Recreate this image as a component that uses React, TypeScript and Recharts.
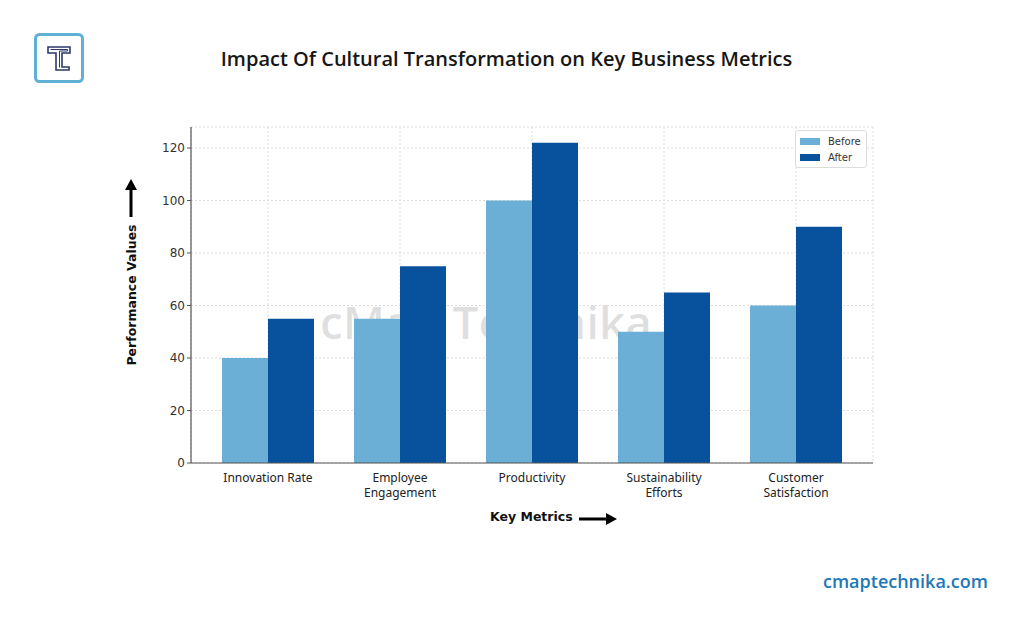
import { BarChart, Bar, XAxis, YAxis, CartesianGrid } from "recharts";

const metrics = [
  "Innovation Rate",
  "Employee\nEngagement",
  "Productivity",
  "Sustainability\nEfforts",
  "Customer\nSatisfaction",
];
const before = [40, 55, 100, 50, 60];
const after = [55, 75, 122, 65, 90];
const yTicks = [0, 20, 40, 60, 80, 100, 120];
const seriesNames = ["Before", "After"];

const data = metrics.map((m, i) => ({ metric: m, Before: before[i], After: after[i] }));

const BEFORE = "#6baed6";
const AFTER = "#08519c";
const colors = [BEFORE, AFTER];

function MetricTick({ x, y, payload }: any) {
  const lines = String(payload.value).split("\n");
  return (
    <text x={x} y={y + 11} textAnchor="middle" fontSize={12} fill="#222" fontFamily="'Noto Sans', sans-serif">
      {lines.map((l, i) => (
        <tspan key={i} x={x} dy={i === 0 ? 0 : 15}>
          {l}
        </tspan>
      ))}
    </text>
  );
}

function LegendBox() {
  return (
    <div
      style={{
        position: "absolute",
        left: 795,
        top: 130,
        border: "1px solid #ddd",
        borderRadius: 3,
        background: "rgba(255,255,255,0.9)",
        padding: "2px 5px 2px 4px",
        fontFamily: "'DejaVu Sans', sans-serif",
        fontSize: 10,
        color: "#333",
      }}
    >
      {seriesNames.map((name, i) => (
        <div key={name} style={{ display: "flex", alignItems: "center", height: 16 }}>
          <span style={{ width: 20, height: 7, background: colors[i], marginRight: 8 }} />
          {name}
        </div>
      ))}
    </div>
  );
}

export default function App() {
  return (
    <div style={{ position: "relative", width: 1024, height: 622, margin: -8, background: "#fff", overflow: "hidden" }}>
      {/* logo */}
      <svg style={{ position: "absolute", left: 34, top: 33 }} width={50} height={50}>
        <rect x={1.5} y={1.5} width={47} height={47} rx={4} fill="#fff" stroke="#5fb0d5" strokeWidth={3} />
        <path d="M14 14 H36 V20 H28 V34 H35 V37 H22 V20 H14 Z" fill="none" stroke="#2b3a6b" strokeWidth={1.6} />
        <path d="M16.5 16.5 H33.5 V18 H25.5 V34.5" fill="none" stroke="#2b3a6b" strokeWidth={1} />
      </svg>
      <div
        style={{
          position: "absolute",
          top: 45,
          left: 0,
          width: 1013,
          textAlign: "center",
          fontFamily: "'Open Sans', sans-serif",
          fontWeight: 600,
          fontSize: 20,
          color: "#161616",
        }}
      >
        Impact Of Cultural Transformation on Key Business Metrics
      </div>
      {/* watermark */}
      <div
        style={{
          position: "absolute",
          top: 290,
          left: 0,
          width: 972,
          textAlign: "center",
          fontFamily: "'Open Sans', sans-serif",
          fontWeight: 600,
          fontSize: 46,
          color: "rgba(0,0,0,0.13)",
        }}
      >
        cMap Technika
      </div>
      <div style={{ position: "absolute", left: 0, top: 0 }}>
        <BarChart
          width={1024}
          height={622}
          data={data}
          margin={{ top: 127, right: 151, bottom: 119, left: 151 }}
          barCategoryGap={20}
          barGap={0}
        >
          <CartesianGrid stroke="#dcdcdc" strokeDasharray="2 2" />
          <XAxis
            dataKey="metric"
            height={40}
            padding={{ left: 11, right: 11 }}
            tick={<MetricTick />}
            tickLine={false}
            axisLine={{ stroke: "#555", strokeWidth: 1.2 }}
            interval={0}
          />
          <YAxis
            width={40}
            domain={[0, 128]}
            ticks={yTicks}
            tick={{ fontSize: 12, fill: "#333", fontFamily: "'DejaVu Sans', sans-serif" }}
            tickSize={4}
            tickLine={{ stroke: "#555" }}
            axisLine={{ stroke: "#555", strokeWidth: 1.2 }}
          />
          <Bar dataKey="Before" name={seriesNames[0]} fill={BEFORE} isAnimationActive={false} />
          <Bar dataKey="After" name={seriesNames[1]} fill={AFTER} isAnimationActive={false} />
        </BarChart>
      </div>
      <LegendBox />
      {/* y label */}
      <div
        style={{
          position: "absolute",
          left: 131,
          top: 295,
          transform: "translate(-50%, -50%) rotate(-90deg)",
          whiteSpace: "nowrap",
          fontFamily: "'DejaVu Sans', sans-serif",
          fontWeight: 700,
          fontSize: 12.5,
          color: "#111",
        }}
      >
        Performance Values
      </div>
      <svg style={{ position: "absolute", left: 122, top: 178 }} width={18} height={40}>
        <path d="M9 1 L15 12 H10.5 V39 H7.5 V12 H3 Z" fill="#000" />
      </svg>
      {/* x label */}
      <div
        style={{
          position: "absolute",
          left: 490,
          top: 509,
          whiteSpace: "nowrap",
          fontFamily: "'DejaVu Sans', sans-serif",
          fontWeight: 700,
          fontSize: 12.5,
          color: "#111",
        }}
      >
        Key Metrics
      </div>
      <svg style={{ position: "absolute", left: 578, top: 510 }} width={40} height={18}>
        <path d="M1 7.5 H28 V3 L39 9 L28 15 V10.5 H1 Z" fill="#000" />
      </svg>
      <div
        style={{
          position: "absolute",
          left: 823,
          top: 569,
          fontFamily: "'Open Sans', sans-serif",
          fontWeight: 600,
          fontSize: 18,
          color: "#2277b8",
        }}
      >
        cmaptechnika.com
      </div>
    </div>
  );
}
